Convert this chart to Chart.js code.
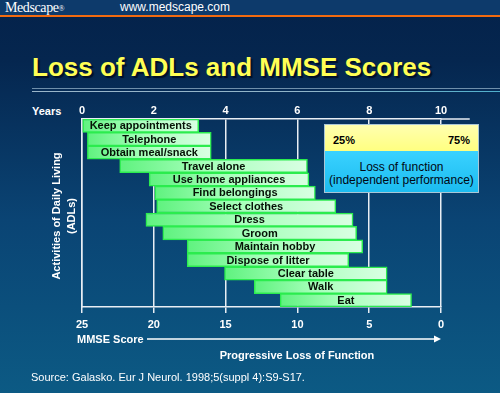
<!DOCTYPE html>
<html>
<head>
<meta charset="utf-8">
<script src="https://cdn.jsdelivr.net/npm/chart.js@4.4.0/dist/chart.umd.min.js"></script>
<style>
  html, body { margin: 0; padding: 0; }
  body {
    width: 500px; height: 393px; overflow: hidden; position: relative;
    background: linear-gradient(to bottom, #04224a 0px, #05264f 60px, #0a4474 220px, #0c5a84 393px);
    font-family: 'Liberation Sans', Arial, sans-serif; color: #fff;
  }
  .abs { position: absolute; white-space: nowrap; }
  #header { left: 0; top: 0; width: 500px; height: 15px; background: #0d3a6b; border-bottom: 2px solid #f26a10; }
  #brand { left: 5px; top: 0; font: 14px/15px 'Liberation Serif', 'Times New Roman', serif; letter-spacing: -0.4px; }
  #brand sup { font-size: 8px; vertical-align: 1px; }
  #site { left: 120px; top: 0; font: 12px/15px 'Liberation Sans', Arial, sans-serif; }
  #title { left: 32px; top: 52px; font: bold 26px/30px 'Liberation Sans', Arial, sans-serif; color: #ffff55; text-shadow: 2px 2px 1px #001028; }
  .rule { left: 32px; width: 468px; }
  #rule1 { top: 88px; height: 1px; background: #6f8fab; }
  #rule2 { top: 91px; height: 1px; background: linear-gradient(to right, #9ab6c9, #8fb4c8 60%, #4fb0cc); }
  #years { left: 32px; top: 103.5px; font: bold 11px/14px 'Liberation Sans', Arial, sans-serif; }
  #mmse { left: 77px; top: 332px; font: bold 11px/14px 'Liberation Sans', Arial, sans-serif; }
  #progress { left: 219px; width: 156px; text-align: center; top: 348px; font: bold 11px/14px 'Liberation Sans', Arial, sans-serif; }
  #source { left: 31px; top: 369.5px; font: 11px/14px 'Liberation Sans', Arial, sans-serif; }
  #chartwrap { left: 0; top: 0; width: 500px; height: 393px; }
  #legend { left: 324px; top: 124px; width: 153px; height: 67px; border: 1px solid #a9c6d6; color: #000; z-index: 5; }
  #legend .yel { position: relative; height: 26px; background: linear-gradient(to bottom, #ffffb0, #ffff80); }
  #legend .yel span { position: absolute; top: 8px; font: bold 11px/14px 'Liberation Sans', Arial, sans-serif; }
  #legend .blu { height: 41px; background: linear-gradient(to bottom, #3ad2ff, #1cbcf0); text-align: center; font: 12px/13px 'Liberation Sans', Arial, sans-serif; color: #000814; }
</style>
</head>
<body>
<div id="header" class="abs"></div>
<div id="brand" class="abs">Medscape<sup>®</sup></div>
<div id="site" class="abs">www.medscape.com</div>
<div id="title" class="abs">Loss of ADLs and MMSE Scores</div>
<div id="rule1" class="abs rule"></div>
<div id="rule2" class="abs rule"></div>
<div id="years" class="abs">Years</div>
<div id="chartwrap" class="abs"><canvas id="chart" width="500" height="393"></canvas></div>
<div id="legend" class="abs">
  <div class="yel"><span style="left:8px">25%</span><span style="right:8px">75%</span></div>
  <div class="blu"><div style="height:10px"></div>Loss of function<br>(independent performance)</div>
</div>
<div id="mmse" class="abs">MMSE Score</div>
<div id="progress" class="abs">Progressive Loss of Function</div>
<div id="source" class="abs">Source: Galasko. Eur J Neurol. 1998;5(suppl 4):S9-S17.</div>

<script>
// Activities, and the years (from onset) over which each is lost
const activities = [
  "Keep appointments", "Telephone", "Obtain meal/snack", "Travel alone",
  "Use home appliances", "Find belongings", "Select clothes", "Dress",
  "Groom", "Maintain hobby", "Dispose of litter", "Clear table", "Walk", "Eat"
];
const startYears = [0, 0.15, 0.15, 1.05, 1.87, 2.03, 2.08, 1.78, 2.25, 2.93, 2.93, 3.97, 4.8, 5.52];
const endYears   = [3.25, 3.6, 3.6, 6.28, 6.32, 6.5, 7.07, 7.55, 7.65, 7.82, 7.43, 8.5, 8.5, 9.18];

// tick labels
const yearTicks = [0, 2, 4, 6, 8, 10];
const mmseTicks = [25, 20, 15, 10, 5, 0];
const yTitle = ["Activities of Daily Living", "(ADLs)"];

const lineColor = "#e8eef4";
const fontFamily = "'Liberation Sans', Arial, sans-serif";

// light green gradient running along each bar
function barFill(context) {
  const chart = context.chart;
  const xScale = chart.scales.x;
  if (!chart.chartArea || !xScale || context.dataIndex === undefined) return "#a8ffbc";
  const i = context.dataIndex;
  const x0 = xScale.getPixelForValue(startYears[i]);
  const x1 = xScale.getPixelForValue(endYears[i]);
  const g = chart.ctx.createLinearGradient(x0, 0, x1, 0);
  g.addColorStop(0, "#5ff27f");
  g.addColorStop(0.45, "#a6ffba");
  g.addColorStop(1, "#d9ffe3");
  return g;
}

// Draw the bar captions, y title, the top axis extension and the MMSE arrow
const extrasPlugin = {
  id: "extras",
  afterDatasetsDraw(chart) {
    const ctx = chart.ctx;
    const meta = chart.getDatasetMeta(0);
    const area = chart.chartArea;
    ctx.save();
    ctx.font = "bold 11px " + fontFamily;
    ctx.fillStyle = "#061206";
    ctx.textAlign = "center";
    ctx.textBaseline = "middle";
    meta.data.forEach((bar, i) => {
      ctx.fillText(activities[i], (bar.x + bar.base) / 2, bar.y + 0.5);
    });

    // rotated y axis title, two lines
    ctx.fillStyle = "#ffffff";
    ctx.save();
    ctx.translate(57, (area.top + area.bottom) / 2 + 3);
    ctx.rotate(-Math.PI / 2);
    yTitle.forEach((line, k) => ctx.fillText(line, 0, k * 15));
    ctx.restore();

    // top axis runs a bit past the last year
    ctx.strokeStyle = lineColor;
    ctx.lineWidth = 1.5;
    ctx.beginPath();
    ctx.moveTo(area.right, area.top);
    ctx.lineTo(chart.scales.x.getPixelForValue(10.8), area.top);
    ctx.stroke();

    // arrow after "MMSE Score"
    const arrowY = 339;
    const arrowEnd = chart.scales.x2.getPixelForValue(10);
    ctx.strokeStyle = "#ffffff";
    ctx.beginPath();
    ctx.moveTo(147, arrowY);
    ctx.lineTo(arrowEnd - 6, arrowY);
    ctx.stroke();
    ctx.beginPath();
    ctx.moveTo(arrowEnd, arrowY);
    ctx.lineTo(arrowEnd - 7, arrowY - 3.5);
    ctx.lineTo(arrowEnd - 7, arrowY + 3.5);
    ctx.closePath();
    ctx.fill();
    ctx.restore();
  }
};

const chart = new Chart("chart", {
  type: "bar",
  data: {
    labels: activities,
    datasets: [{
      data: activities.map((a, i) => [startYears[i], endYears[i]]),
      backgroundColor: barFill,
      borderColor: "#2bec4e",
      borderWidth: 1.5,
      borderSkipped: false,
      barPercentage: 1,
      categoryPercentage: 1
    }]
  },
  options: {
    indexAxis: "y",
    responsive: false,
    animation: false,
    layout: { padding: { left: 0, right: 59, top: 0, bottom: 0 } },
    plugins: {
      legend: { display: false },
      tooltip: { enabled: false }
    },
    scales: {
      x: {
        type: "linear",
        position: "top",
        min: 0,
        max: 10,
        ticks: {
          stepSize: 2,
          padding: 1,
          color: "#ffffff",
          font: { family: fontFamily, weight: "bold", size: 11 },
          callback: (v, i) => yearTicks[i]
        },
        grid: { color: lineColor, lineWidth: 1.5, drawTicks: false },
        border: { color: lineColor, width: 1.5 },
        afterFit: (s) => { s.height = 119; }
      },
      x2: {
        type: "linear",
        position: "bottom",
        min: 0,
        max: 10,
        ticks: {
          stepSize: 2,
          padding: 5,
          color: "#ffffff",
          font: { family: fontFamily, weight: "bold", size: 11 },
          callback: (v, i) => mmseTicks[i]
        },
        grid: { drawOnChartArea: false, color: lineColor, lineWidth: 1.5, tickLength: 6 },
        border: { color: lineColor, width: 1.5 },
        afterFit: (s) => { s.height = 86; }
      },
      y: {
        type: "category",
        offset: true,
        ticks: { display: false },
        grid: { display: false },
        border: { color: lineColor, width: 1.5 },
        afterFit: (s) => { s.width = 82; }
      }
    }
  },
  plugins: [extrasPlugin]
});
</script>
</body>
</html>
